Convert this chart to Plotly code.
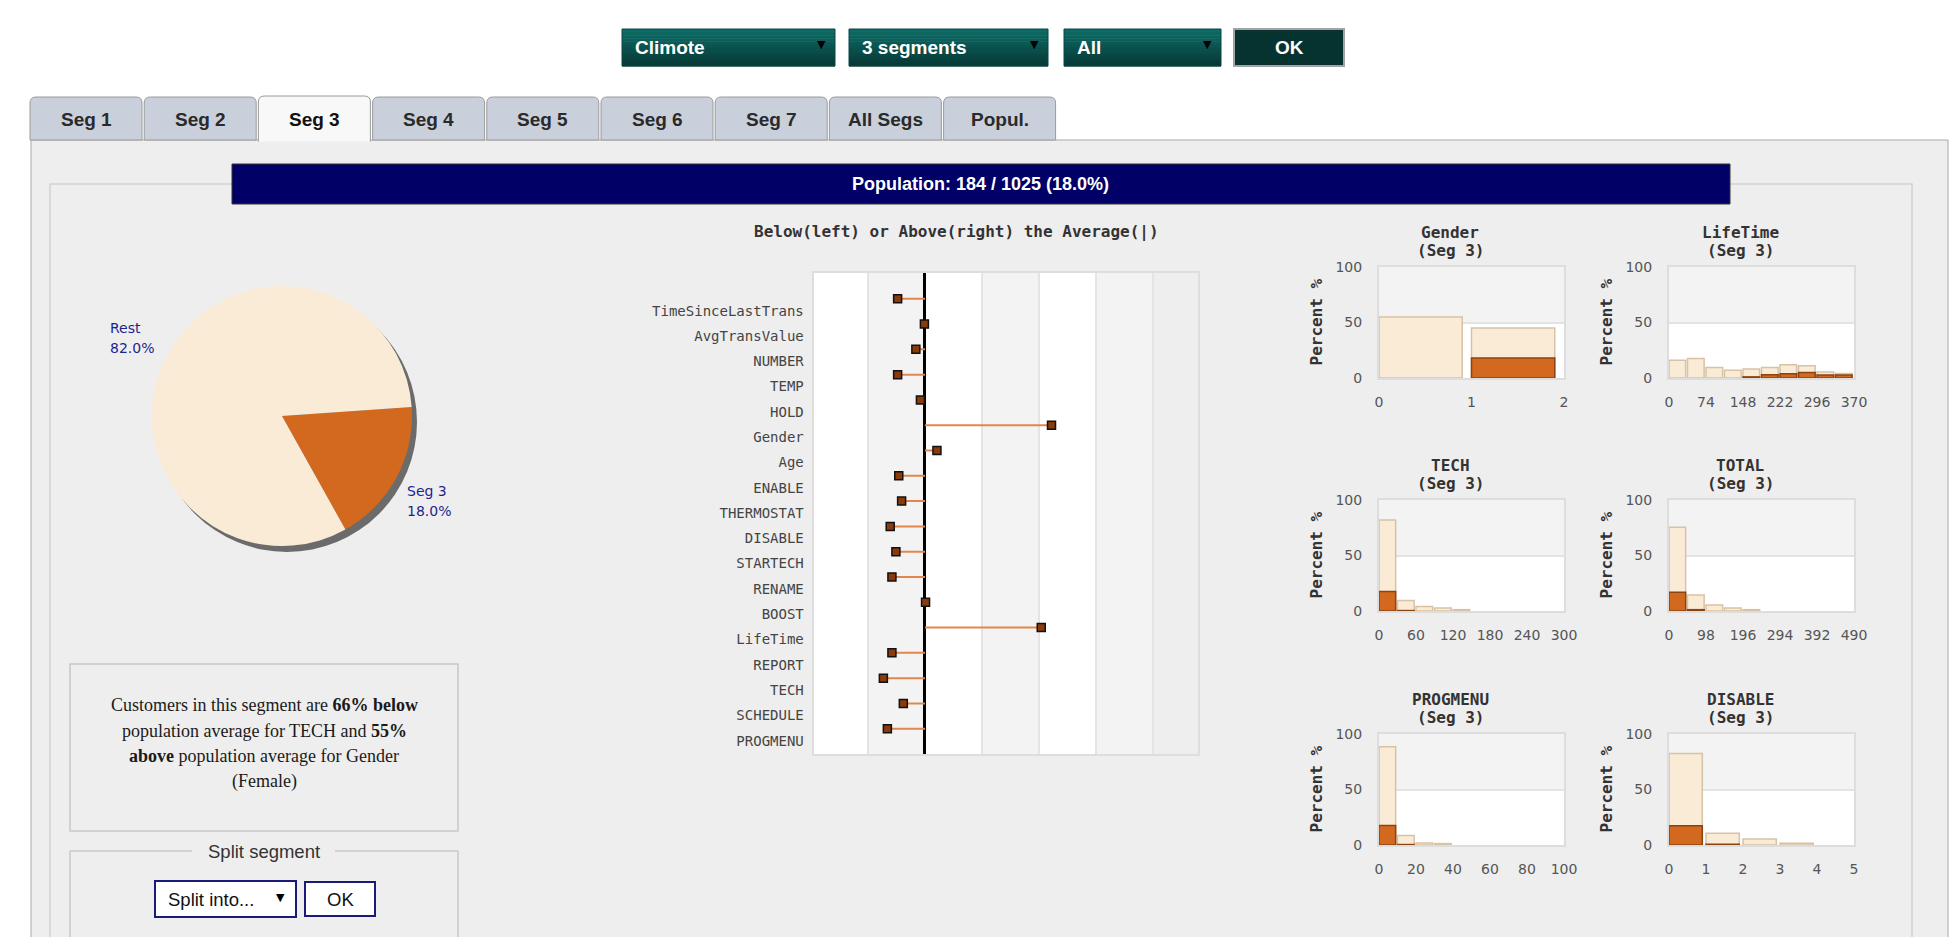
import plotly.graph_objects as go

W, H = 1960, 937

# ------------------------------------------------------------------ data
dropdown_labels = ["Climote", "3 segments", "All"]
ok_label = "OK"
tab_labels = ["Seg 1", "Seg 2", "Seg 3", "Seg 4", "Seg 5", "Seg 6", "Seg 7", "All Segs", "Popul."]
active_tab = "Seg 3"

segment_count = 184
population_count = 1025

pie_labels = ["Seg 3", "Rest"]
pie_values = [18.0, 82.0]

dot_title = "Below(left) or Above(right) the Average(|)"
dot_variables = ["TimeSinceLastTrans", "AvgTransValue", "NUMBER", "TEMP", "HOLD",
                 "Gender", "Age", "ENABLE", "THERMOSTAT", "DISABLE", "STARTECH",
                 "RENAME", "BOOST", "LifeTime", "REPORT", "TECH", "SCHEDULE", "PROGMENU"]
dot_deviation = [-0.48, -0.01, -0.16, -0.48, -0.08, 2.22, 0.21, -0.46, -0.41,
                 -0.61, -0.51, -0.58, 0.01, 2.04, -0.58, -0.73, -0.38, -0.66]

hist_titles = ["Gender", "LifeTime", "TECH", "TOTAL", "PROGMENU", "DISABLE"]
hist_bin_width = [1, 37, 30, 49, 10, 1]
hist_x_max = [2, 370, 300, 490, 100, 5]
hist_x_ticks = [[0, 1, 2],
                [0, 74, 148, 222, 296, 370],
                [0, 60, 120, 180, 240, 300],
                [0, 98, 196, 294, 392, 490],
                [0, 20, 40, 60, 80, 100],
                [0, 1, 2, 3, 4, 5]]
hist_y_ticks = [0, 50, 100]

gender_population = [55, 45]
gender_segment = [0, 18]
lifetime_population = [16, 17.5, 9.5, 7, 8, 9.5, 12, 11, 5.5, 4]
lifetime_segment = [0, 0, 0, 0, 1, 3, 3.8, 5, 2.7, 2.7]
tech_population = [82, 9.5, 4, 2.8, 1.2]
tech_segment = [17.6, 0.4, 0, 0, 0]
total_population = [75.5, 14.5, 5.5, 2.8, 1.2]
total_segment = [16.8, 1.2, 0, 0, 0]
progmenu_population = [88.5, 8.5, 1.7, 1.3]
progmenu_segment = [17.6, 0.4, 0, 0]
disable_population = [82.5, 10.5, 5.5, 1.5]
disable_segment = [17.4, 0.6, 0, 0]

summary_lines = ["Customers in this segment are <b>66% below</b>",
                 "population average for TECH and <b>55%</b>",
                 "<b>above</b> population average for Gender",
                 "(Female)"]
split_legend = "Split segment"
split_select = "Split into..."

# ------------------------------------------------------------------ helpers
def px(x):
    return x / W


def py(y):
    return 1 - y / H


shapes = []
annotations = []


def rect(x0, y0, x1, y1, fill=None, line=None, lw=1.0):
    shapes.append(dict(type="rect", xref="paper", yref="paper",
                       x0=px(x0), x1=px(x1), y0=py(y1), y1=py(y0),
                       fillcolor=fill if fill else "rgba(0,0,0,0)",
                       line=dict(color=line if line else "rgba(0,0,0,0)",
                                 width=lw if line else 0),
                       layer="below"))


def seg_line(x0, y0, x1, y1, color, lw):
    shapes.append(dict(type="line", xref="paper", yref="paper",
                       x0=px(x0), x1=px(x1), y0=py(y0), y1=py(y1),
                       line=dict(color=color, width=lw), layer="below"))


def text(x, y, s, size, color, family="Liberation Sans", weight="normal",
         xanchor="center", yanchor="middle", angle=0):
    annotations.append(dict(xref="paper", yref="paper", x=px(x), y=py(y), text=s,
                            showarrow=False, xanchor=xanchor, yanchor=yanchor,
                            textangle=angle,
                            font=dict(size=size, color=color, family=family,
                                      weight=weight)))


def tab_path(x0, y0, x1, y1, r=6, closed=True):
    p = (f"M {px(x0)},{py(y1)} L {px(x0)},{py(y0 + r)} "
         f"Q {px(x0)},{py(y0)} {px(x0 + r)},{py(y0)} "
         f"L {px(x1 - r)},{py(y0)} Q {px(x1)},{py(y0)} {px(x1)},{py(y0 + r)} "
         f"L {px(x1)},{py(y1)}")
    return p + (" Z" if closed else "")


# ------------------------------------------------------------------ page chrome
# panel
rect(31, 140, 1948, 980, fill="#eeeeee", line="#a9a9a9", lw=1)
# inner box
rect(50, 184, 1912, 980, line="#d2d2d2", lw=1.5)

# tabs
for i, lab in enumerate(tab_labels):
    x0 = 30 + i * 114.2
    x1 = x0 + 112
    if lab == active_tab:
        shapes.append(dict(type="path", xref="paper", yref="paper",
                           path=tab_path(x0, 96, x1, 141.5, closed=False),
                           fillcolor="#f8f8f8", line=dict(color="#9a9a9a", width=1),
                           layer="below"))
        text((x0 + x1) / 2, 119, lab, 19, "#111111", weight="bold")
    else:
        shapes.append(dict(type="path", xref="paper", yref="paper",
                           path=tab_path(x0, 97, x1, 140),
                           fillcolor="#c9d0db", line=dict(color="#9a9a9a", width=1),
                           layer="below"))
        text((x0 + x1) / 2, 119, lab, 19, "#2a2a2a", weight="bold")

# dropdowns (vertical gradient approximated with strips)
top_c = (13, 108, 102)
bot_c = (7, 58, 55)
n_strip = 12
dd_boxes = [(622, 835), (849, 1048), (1064, 1221)]
for (x0, x1), lab in zip(dd_boxes, dropdown_labels):
    y0, y1 = 29, 66
    for s in range(n_strip):
        t = s / (n_strip - 1)
        c = tuple(int(top_c[k] + (bot_c[k] - top_c[k]) * t) for k in range(3))
        rect(x0, y0 + (y1 - y0) * s / n_strip, x1, y0 + (y1 - y0) * (s + 1) / n_strip + 0.5,
             fill=f"rgb{c}")
    rect(x0, y0, x1, y1, line="#0a4744", lw=1)
    text(x0 + 11, 47.5, lab, 19, "#ffffff", weight="bold", xanchor="left")
    text(x1 - 14, 45, "\u25bc", 11, "#000000", family="DejaVu Sans")
rect(1234, 29, 1344, 66, fill="#063330", line="#a3a3a3", lw=2)
text(1289, 47.5, ok_label, 19, "#ffffff", weight="bold")

# population bar
rect(232, 164, 1730, 204, fill="#000066", line="#333333", lw=1)
pct = 100.0 * segment_count / population_count
text(981, 184, f"Population: {segment_count} / {population_count} ({pct:.1f}%)",
     18, "#ffffff", weight="bold")

# summary text box
rect(70, 664, 458, 831, line="#c8c8c8", lw=1.5)
for yy, line in zip([705, 730.5, 756, 781.5], summary_lines):
    text(264, yy, line, 18, "#1a1a1a", family="Liberation Serif")

# split segment fieldset
seg_line(70, 851, 192, 851, "#c8c8c8", 1.5)
seg_line(335, 851, 458, 851, "#c8c8c8", 1.5)
seg_line(70, 851, 70, 980, "#c8c8c8", 1.5)
seg_line(458, 851, 458, 980, "#c8c8c8", 1.5)
text(263.5, 851, split_legend, 18.5, "#333333")
rect(155, 881, 296, 917, fill="#ffffff", line="#1a1a78", lw=2)
text(166, 899, split_select, 18.5, "#111111", xanchor="left")
text(280, 897, "\u25bc", 11, "#000000", family="DejaVu Sans")
rect(305, 882, 375, 916, fill="#ffffff", line="#1a1a78", lw=2)
text(340, 899, "OK", 18.5, "#111111")

# pie shadow
shapes.append(dict(type="circle", xref="paper", yref="paper",
                   x0=px(157), x1=px(417), y0=py(552), y1=py(292),
                   fillcolor="#6b6b6b", line=dict(width=0), layer="below"))

# pie labels
for lab, val, x, y in [(pie_labels[1], pie_values[1], 108, 328),
                       (pie_labels[0], pie_values[0], 405, 491)]:
    text(x, y, lab, 14, "#1f1f8f", family="DejaVu Sans", xanchor="left")
    text(x, y + 20, f"{val:.1f}%", 14, "#1f1f8f", family="DejaVu Sans", xanchor="left")

# ------------------------------------------------------------------ figure
fig = go.Figure()

fig.add_trace(go.Pie(labels=pie_labels, values=pie_values, sort=False,
                     direction="clockwise", rotation=86,
                     marker=dict(colors=["#D2691E", "#FAEBD7"], line=dict(width=0)),
                     textinfo="none", hoverinfo="label+percent", showlegend=False,
                     domain=dict(x=[px(152), px(412)], y=[py(546), py(286)])))

# dot chart
row_pos = list(range(len(dot_variables)))
dot_y = [r - 0.47 for r in row_pos]
lx, ly = [], []
for v, yy in zip(dot_deviation, dot_y):
    lx += [0, v, None]
    ly += [yy, yy, None]
fig.add_trace(go.Scatter(x=lx, y=ly, mode="lines", line=dict(color="#E2874B", width=2),
                         xaxis="x", yaxis="y", hoverinfo="skip", showlegend=False))
fig.add_trace(go.Scatter(x=dot_deviation, y=dot_y, mode="markers",
                         marker=dict(symbol="square", size=8, color="#8B3A0C",
                                     line=dict(color="#111111", width=1.5)),
                         text=dot_variables, hoverinfo="text+x",
                         xaxis="x", yaxis="y", showlegend=False))

band_edges = [-1.954, -1, 0, 1, 2, 3, 4, 4.79]
band_fills = ["#ffffff", "#f3f3f3", "#ffffff", "#f3f3f3", "#ffffff", "#f3f3f3", "#eeeeee"]
for i, f in enumerate(band_fills):
    shapes.append(dict(type="rect", xref="x", yref="y domain",
                       x0=band_edges[i], x1=band_edges[i + 1], y0=0, y1=1,
                       fillcolor=f, line=dict(width=0), layer="below"))

text(956, 232, dot_title, 16, "#333333", family="DejaVu Sans Mono", weight="bold")

layout = dict(
    width=W, height=H, margin=dict(l=0, r=0, t=0, b=0, pad=0, autoexpand=False),
    autosize=False,
    paper_bgcolor="#ffffff", plot_bgcolor="rgba(0,0,0,0)",
    showlegend=False, barmode="overlay", font=dict(family="DejaVu Sans"),
    xaxis=dict(domain=[px(813.6), px(1198)], anchor="y", range=[-1.954, 4.79],
               tickvals=[-1, 0, 1, 2, 3, 4], showticklabels=False, ticks="",
               showgrid=True, gridcolor="#e4e4e4", gridwidth=2,
               zeroline=True, zerolinecolor="#000000", zerolinewidth=3,
               showline=True, mirror=True, linecolor="#dedede", linewidth=2,
               fixedrange=True, automargin=False),
    yaxis=dict(domain=[py(754), py(273)], anchor="x", range=[17.53, -1.49],
               tickvals=row_pos, ticktext=dot_variables,
               tickfont=dict(family="DejaVu Sans Mono", size=14, color="#444444"),
               ticks="outside", ticklen=5, tickcolor="rgba(0,0,0,0)",
               showgrid=False, zeroline=False,
               showline=True, mirror=True, linecolor="#dedede", linewidth=2,
               fixedrange=True, automargin=False),
)

# small histograms
hist_population = [gender_population, lifetime_population, tech_population,
                   total_population, progmenu_population, disable_population]
hist_segment = [gender_segment, lifetime_segment, tech_segment,
                total_segment, progmenu_segment, disable_segment]
col_x = [(1379, 1564), (1669, 1854)]
col_title_x = [1450, 1740]
col_ylab_x = [1316, 1606]
row_y = [(267, 378), (500, 611), (734, 845)]

for k in range(6):
    aid = k + 2
    r, c = divmod(k, 2)
    x0, x1 = col_x[c]
    y0, y1 = row_y[r]
    w = hist_bin_width[k]
    centers = [i * w + 0.45 * w for i in range(len(hist_population[k]))]
    fig.add_trace(go.Bar(x=centers, y=hist_population[k], width=0.9 * w,
                         xaxis=f"x{aid}", yaxis=f"y{aid}", showlegend=False,
                         marker=dict(color="#FAEBD7", line=dict(color="#D8C2A5", width=1.5))))
    seg_vals = [v if v > 0 else None for v in hist_segment[k]]
    fig.add_trace(go.Bar(x=centers, y=seg_vals, width=0.9 * w,
                         xaxis=f"x{aid}", yaxis=f"y{aid}", showlegend=False,
                         marker=dict(color="#D2691E", line=dict(color="#8A4312", width=1.5))))
    layout[f"xaxis{aid}"] = dict(
        domain=[px(x0), px(x1)], anchor=f"y{aid}", range=[0, hist_x_max[k]],
        tickvals=hist_x_ticks[k], tickfont=dict(family="DejaVu Sans", size=14, color="#555555"),
        ticks="outside", ticklen=10, tickcolor="rgba(0,0,0,0)",
        showgrid=False, zeroline=False, automargin=False,
        showline=True, mirror=True, linecolor="#dddddd", linewidth=2, fixedrange=True)
    layout[f"yaxis{aid}"] = dict(
        domain=[py(y1), py(y0)], anchor=f"x{aid}", range=[0, 100],
        tickvals=hist_y_ticks, tickfont=dict(family="DejaVu Sans", size=14, color="#555555"),
        ticks="outside", ticklen=12, tickcolor="rgba(0,0,0,0)",
        showgrid=True, gridcolor="#e3e3e3", gridwidth=1.5, zeroline=False, automargin=False,
        showline=True, mirror=True, linecolor="#dddddd", linewidth=2, fixedrange=True)
    shapes.append(dict(type="rect", xref=f"x{aid} domain", yref=f"y{aid}",
                       x0=0, x1=1, y0=0, y1=50, fillcolor="#ffffff",
                       line=dict(width=0), layer="below"))
    shapes.append(dict(type="rect", xref=f"x{aid} domain", yref=f"y{aid}",
                       x0=0, x1=1, y0=50, y1=100, fillcolor="#f3f3f3",
                       line=dict(width=0), layer="below"))
    text(col_title_x[c], y0 - 34.5, hist_titles[k], 16, "#333333",
         family="DejaVu Sans Mono", weight="bold")
    text(col_title_x[c], y0 - 16.5, f"({active_tab})", 16, "#333333",
         family="DejaVu Sans Mono", weight="bold")
    text(col_ylab_x[c], (y0 + y1) / 2, "Percent %", 16, "#333333",
         family="DejaVu Sans Mono", weight="bold", angle=-90)

layout["shapes"] = shapes
layout["annotations"] = annotations
fig.update_layout(**layout)

fig.write_html("out.html", config={"responsive": False, "displayModeBar": False},
               post_script="document.body.style.margin='0px';"
                           "document.body.style.overflow='hidden';")
